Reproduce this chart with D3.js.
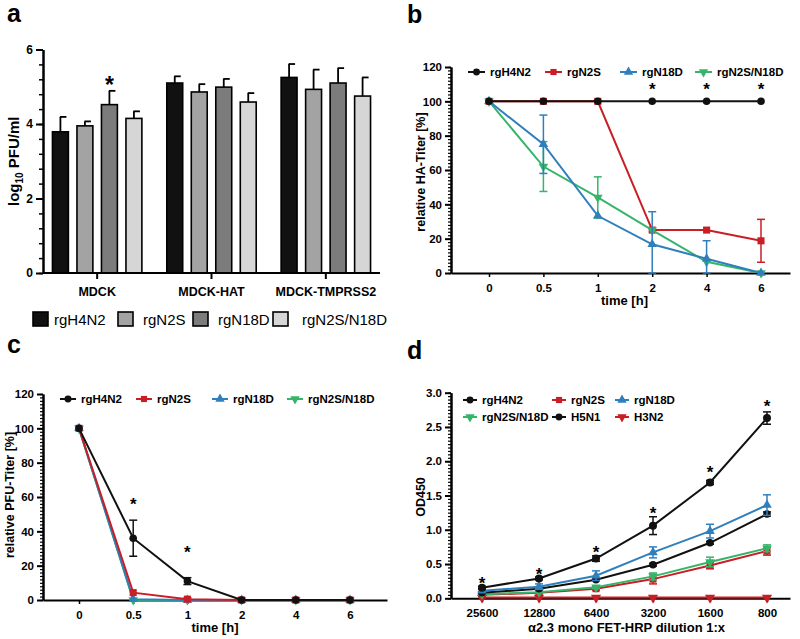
<!DOCTYPE html>
<html><head><meta charset="utf-8">
<script src="https://cdn.jsdelivr.net/npm/d3@7"></script>
<style>
body{margin:0;background:#fff}
svg{display:block}
text{font-family:"Liberation Sans",Arial,Helvetica,sans-serif}
</style>
</head><body>
<svg id="fig" width="800" height="639"></svg>
<script>
// ---------------- DATA ----------------
// Panel a
const cellLines = ["MDCK", "MDCK-HAT", "MDCK-TMPRSS2"];
const barSeries = ["rgH4N2", "rgN2S", "rgN18D", "rgN2S/N18D"];
const barH4N2 = [3.79, 5.10, 5.25];
const barN2S = [3.95, 4.86, 4.93];
const barN18D = [4.52, 4.99, 5.10];
const barN2SN18D = [4.15, 4.59, 4.75];
const barErrH4N2 = [0.40, 0.18, 0.36];
const barErrN2S = [0.12, 0.21, 0.53];
const barErrN18D = [0.37, 0.22, 0.40];
const barErrN2SN18D = [0.19, 0.24, 0.50];
const aYTicks = [0, 2, 4, 6];
const aStar = {cell: "MDCK", series: "rgN18D", value: 5.17};

// Panel b  (relative HA titer)
const timeLabels = ["0", "0.5", "1", "2", "4", "6"];
const bH4N2 = [100, 100, 100, 100, 100, 100];
const bN2S = [100, 100, 100, 25, 25, 18.75];
const bN18D = [100, 75, 33.3, 16.7, 8.3, 0];
const bN2SN18D = [100, 62, 44, 25, 6.5, 0];
const bErrH4N2 = [0, 0, 0, 0, 0, 0];
const bErrN2S = [0, 0, 0, 0, 0, 12.5];
const bErrN18D = [0, 17, 0, 19, 10.5, 0];
const bErrN2SN18D = [0, 14.5, 12, 0, 0, 0];
const bStarIdx = [3, 4, 5];
const bStarVal = [109, 109, 109];

// Panel c  (relative PFU titer)
const cH4N2 = [100, 36, 11, 0, 0, 0];
const cN2S = [100, 4.3, 0.5, 0, 0, 0];
const cN18D = [100, 0.4, 0, 0, 0, 0];
const cN2SN18D = [100, 0, 0, 0, 0, 0];
const cErrH4N2 = [0, 10.5, 2, 0, 0, 0];
const cStarIdx = [1, 2];
const cStarVal = [58, 30];
const pctTicks = [0, 20, 40, 60, 80, 100, 120];

// Panel d  (OD450 vs dilution)
const dilutionLabels = ["25600", "12800", "6400", "3200", "1600", "800"];
const dH4N2 = [0.155, 0.29, 0.58, 1.06, 1.69, 2.63];
const dN2S = [0.05, 0.08, 0.14, 0.28, 0.48, 0.69];
const dN18D = [0.11, 0.17, 0.33, 0.67, 0.98, 1.36];
const dN2SN18D = [0.06, 0.09, 0.16, 0.32, 0.53, 0.73];
const dH5N1 = [0.08, 0.14, 0.27, 0.49, 0.81, 1.23];
const dH3N2 = [0.01, 0.01, 0.01, 0.01, 0.01, 0.01];
const dErrH4N2 = [0.02, 0.02, 0.04, 0.13, 0.03, 0.09];
const dErrN2S = [0.01, 0.01, 0.02, 0.07, 0.05, 0.06];
const dErrN18D = [0.02, 0.04, 0.07, 0.08, 0.10, 0.15];
const dErrN2SN18D = [0.01, 0.01, 0.02, 0.05, 0.07, 0.05];
const dErrH5N1 = [0.01, 0.01, 0.01, 0.02, 0.02, 0.03];
const dErrH3N2 = [0, 0, 0, 0, 0, 0];
const dStarVal = [0.27, 0.41, 0.72, 1.30, 1.89, 2.86];
const odTicks = [0, 0.5, 1.0, 1.5, 2.0, 2.5, 3.0];

// ---------------- STYLE ----------------
const FONT = '"Liberation Sans",Arial,Helvetica,sans-serif';
const RED = "#c81e25", BLUE = "#2f7fbd", GREEN = "#36b56a", BLACK = "#111";
const barColors = {"rgH4N2": "#111111", "rgN2S": "#a3a3a3", "rgN18D": "#7c7c7c", "rgN2S/N18D": "#d6d6d6"};

const svg = d3.select("#fig");

function styleAxis(sel, domW, tickW, fs) {
  sel.select(".domain").attr("stroke", "#000").attr("stroke-width", domW);
  sel.selectAll(".tick line").attr("stroke", "#000").attr("stroke-width", tickW);
  sel.selectAll(".tick text").attr("fill", "#000").attr("font-weight", "bold")
    .attr("font-size", fs).attr("font-family", FONT);
}

function panelLabel(txt, x, y) {
  svg.append("text").attr("x", x).attr("y", y).text(txt)
    .attr("font-size", 25).attr("font-weight", "bold").attr("fill", "#000");
}

// ---------------- PANEL A ----------------
(function () {
  const L = 43, R = 380, B = 273, T = 49.5;
  const y = d3.scaleLinear().domain([0, 6]).range([B, T]);
  const x = d3.scaleBand().domain(cellLines).range([40, 383]);
  const xs = d3.scaleBand().domain(barSeries).range([-49, 49]).paddingInner(0.35).paddingOuter(0.175);
  const means = {"rgH4N2": barH4N2, "rgN2S": barN2S, "rgN18D": barN18D, "rgN2S/N18D": barN2SN18D};
  const errs = {"rgH4N2": barErrH4N2, "rgN2S": barErrN2S, "rgN18D": barErrN18D, "rgN2S/N18D": barErrN2SN18D};
  const g = svg.append("g");

  const rows = [];
  barSeries.forEach(s => cellLines.forEach((c, i) => rows.push({s, c, v: means[s][i], e: errs[s][i]})));

  // error bars (upward)
  const eb = g.append("g");
  rows.forEach(d => {
    const cx = x(d.c) + x.bandwidth() / 2 + xs(d.s) + xs.bandwidth() / 2;
    eb.append("line").attr("x1", cx).attr("x2", cx).attr("y1", y(d.v)).attr("y2", y(d.v + d.e))
      .attr("stroke", "#000").attr("stroke-width", 1.8);
    eb.append("line").attr("x1", cx - 0.5).attr("x2", cx + 6).attr("y1", y(d.v + d.e)).attr("y2", y(d.v + d.e))
      .attr("stroke", "#000").attr("stroke-width", 1.8);
  });
  g.append("g").selectAll("rect").data(rows).join("rect")
    .attr("x", d => x(d.c) + x.bandwidth() / 2 + xs(d.s))
    .attr("width", xs.bandwidth())
    .attr("y", d => y(d.v))
    .attr("height", d => y(0) - y(d.v))
    .attr("fill", d => barColors[d.s])
    .attr("stroke", "#000").attr("stroke-width", 1.6);

  // axes
  const ya = g.append("g").attr("transform", `translate(${L},0)`)
    .call(d3.axisLeft(y).tickValues(aYTicks).tickFormat(d3.format("d")).tickSize(7).tickSizeOuter(0).tickPadding(3));
  styleAxis(ya, 2, 2, 12);
  const ym = g.append("g").attr("transform", `translate(${L},0)`)
    .call(d3.axisLeft(y).tickValues(d3.range(0, 6.01, 0.4)).tickFormat("").tickSize(4).tickSizeOuter(0));
  styleAxis(ym, 2, 1.5, 12);
  const xa = g.append("g").attr("transform", `translate(0,${B})`)
    .call(d3.axisBottom(x).tickSize(6).tickSizeOuter(0).tickPadding(8));
  xa.select(".domain").remove();
  styleAxis(xa, 2, 2, 12.5);
  g.append("line").attr("x1", L).attr("x2", R).attr("y1", B).attr("y2", B).attr("stroke", "#000").attr("stroke-width", 2);

  // asterisk
  const sx = x(aStar.cell) + x.bandwidth() / 2 + xs(aStar.series) + xs.bandwidth() / 2;
  g.append("text").attr("x", sx).attr("y", y(aStar.value) + 13).attr("text-anchor", "middle")
    .attr("font-size", 23).attr("font-weight", "bold").text("*");

  // y label
  const yl = g.append("text").attr("transform", `translate(19,${(B + T) / 2}) rotate(-90)`)
    .attr("text-anchor", "middle").attr("font-size", 15).attr("font-weight", "bold");
  yl.append("tspan").text("log");
  yl.append("tspan").text("10").attr("font-size", 10).attr("dy", 4);
  yl.append("tspan").text(" PFU/ml").attr("dy", -4);

  // legend
  const lx = [33, 118, 193, 273];
  const tx = [54, 143, 218, 302];
  barSeries.forEach((s, i) => {
    g.append("rect").attr("x", lx[i]).attr("y", 312).attr("width", 15).attr("height", 14)
      .attr("fill", barColors[s]).attr("stroke", "#000").attr("stroke-width", 1.6);
    g.append("text").attr("x", tx[i]).attr("y", 325).attr("font-size", 15).text(s);
  });
})();

// ---------------- LINE PANEL HELPER ----------------
function symbolPath(shape, size) {
  if (shape === "tdown") return d3.symbol().type(d3.symbolTriangle).size(size)();
  const t = {circle: d3.symbolCircle, square: d3.symbolSquare, tri: d3.symbolTriangle}[shape];
  return d3.symbol().type(t).size(size)();
}
function drawMarker(g, shape, cx, cy, color, size) {
  g.append("path").attr("d", symbolPath(shape, size))
    .attr("transform", `translate(${cx},${cy})` + (shape === "tdown" ? " rotate(180)" : ""))
    .attr("fill", color);
}

function linePanel(o) {
  const g = svg.append("g");
  const n = o.labels.length;
  const xi = d3.scaleLinear().domain([0, n - 1]).range([o.x0, o.xN]);
  const x = d3.scaleLinear().domain([xi.invert(o.axL), xi.invert(o.axR)]).range([o.axL, o.axR]);
  const y = d3.scaleLinear().domain([0, o.ymax]).range([o.yb, o.yt]);

  // axes
  const xa = g.append("g").attr("transform", `translate(0,${o.yb})`)
    .call(d3.axisBottom(x).tickValues(d3.range(n)).tickFormat(i => o.labels[i]).tickSize(4).tickSizeOuter(0).tickPadding(7));
  styleAxis(xa, 2, 1.5, 11.5);
  const ym = g.append("g").attr("transform", `translate(${o.axL},0)`)
    .call(d3.axisLeft(y).tickValues(o.minors).tickFormat("").tickSize(3).tickSizeOuter(0));
  styleAxis(ym, 2, 1.2, 11.5);
  const ya = g.append("g").attr("transform", `translate(${o.axL},0)`)
    .call(d3.axisLeft(y).tickValues(o.majors).tickFormat(o.fmt).tickSize(6).tickSizeOuter(0).tickPadding(3));
  styleAxis(ya, 2, 2, 11.5);

  // series
  o.series.forEach(s => {
    const line = d3.line().x((d, i) => x(i)).y(d => y(d));
    g.append("path").datum(s.values).attr("d", line).attr("fill", "none")
      .attr("stroke", s.color).attr("stroke-width", 2);
    s.values.forEach((v, i) => {
      const e = s.errs ? s.errs[i] : 0;
      if (e > 0) {
        const cx = x(i);
        g.append("line").attr("x1", cx).attr("x2", cx).attr("y1", y(Math.max(0, v - e))).attr("y2", y(v + e))
          .attr("stroke", s.color).attr("stroke-width", 1.5);
        [v + e, Math.max(0, v - e)].forEach(w => {
          g.append("line").attr("x1", cx - 4).attr("x2", cx + 4).attr("y1", y(w)).attr("y2", y(w))
            .attr("stroke", s.color).attr("stroke-width", 1.5);
        });
      }
      drawMarker(g, s.shape, x(i), y(v), s.color, s.size || 45);
    });
  });

  // asterisks
  o.starIdx.forEach((idx, k) => {
    g.append("text").attr("x", x(idx)).attr("y", y(o.starVal[k]) + 9.5).attr("text-anchor", "middle")
      .attr("font-size", 17).attr("font-weight", "bold").text("*");
  });

  // legend
  o.legend.forEach(l => {
    const s = o.series.find(q => q.name === l.name);
    g.append("line").attr("x1", l.x).attr("x2", l.x + l.len).attr("y1", l.y).attr("y2", l.y)
      .attr("stroke", s.color).attr("stroke-width", 2);
    drawMarker(g, s.shape, l.x + l.len / 2, l.y, s.color, 38);
    g.append("text").attr("x", l.x + l.len + 5).attr("y", l.y + 4).attr("font-size", 11.5)
      .attr("font-weight", "bold").text(l.name);
  });

  // titles
  g.append("text").attr("x", (o.axL + o.axR) / 2 + (o.xtOff || 0)).attr("y", o.xtY).attr("text-anchor", "middle")
    .attr("font-size", 13).attr("font-weight", "bold").text(o.xTitle);
  g.append("text").attr("transform", `translate(${o.ytX},${o.ytY}) rotate(-90)`).attr("text-anchor", "middle")
    .attr("font-size", 12.5).attr("font-weight", "bold").text(o.yTitle);
}

// ---------------- PANEL B ----------------
linePanel({
  labels: timeLabels, x0: 489, xN: 761, axL: 451, axR: 790, yb: 273, yt: 67, ymax: 120,
  majors: pctTicks, minors: d3.range(0, 120.1, 2), fmt: d3.format("d"),
  series: [
    {name: "rgN2S", values: bN2S, errs: bErrN2S, color: RED, shape: "square", size: 50},
    {name: "rgN2S/N18D", values: bN2SN18D, errs: bErrN2SN18D, color: GREEN, shape: "tdown", size: 40},
    {name: "rgN18D", values: bN18D, errs: bErrN18D, color: BLUE, shape: "tri", size: 40},
    {name: "rgH4N2", values: bH4N2, errs: bErrH4N2, color: BLACK, shape: "circle", size: 45}
  ],
  starIdx: bStarIdx, starVal: bStarVal,
  legend: [
    {name: "rgH4N2", x: 468, y: 72, len: 17},
    {name: "rgN2S", x: 545, y: 72, len: 17},
    {name: "rgN18D", x: 620, y: 72, len: 17},
    {name: "rgN2S/N18D", x: 695, y: 72, len: 17}
  ],
  xTitle: "time [h]", xtY: 305, xtOff: 4, yTitle: "relative HA-Titer [%]", ytX: 425, ytY: 172
});

// ---------------- PANEL C ----------------
linePanel({
  labels: timeLabels, x0: 79, xN: 350, axL: 43, axR: 387, yb: 600, yt: 394, ymax: 120,
  majors: pctTicks, minors: d3.range(0, 120.1, 2), fmt: d3.format("d"),
  series: [
    {name: "rgN2S/N18D", values: cN2SN18D, errs: null, color: GREEN, shape: "tdown", size: 40},
    {name: "rgN18D", values: cN18D, errs: null, color: BLUE, shape: "tri", size: 40},
    {name: "rgN2S", values: cN2S, errs: null, color: RED, shape: "square", size: 50},
    {name: "rgH4N2", values: cH4N2, errs: cErrH4N2, color: BLACK, shape: "circle", size: 45}
  ],
  starIdx: cStarIdx, starVal: cStarVal,
  legend: [
    {name: "rgH4N2", x: 60, y: 399, len: 16},
    {name: "rgN2S", x: 136, y: 399, len: 16},
    {name: "rgN18D", x: 212, y: 399, len: 16},
    {name: "rgN2S/N18D", x: 287, y: 399, len: 16}
  ],
  xTitle: "time [h]", xtY: 632, xtOff: 0, yTitle: "relative PFU-Titer [%]", ytX: 14, ytY: 495
});

// ---------------- PANEL D ----------------
linePanel({
  labels: dilutionLabels, x0: 482, xN: 767, axL: 451, axR: 790, yb: 598.3, yt: 392.7, ymax: 3.0,
  majors: odTicks, minors: d3.range(0, 3.001, 0.05), fmt: d3.format(".1f"),
  series: [
    {name: "H3N2", values: dH3N2, errs: dErrH3N2, color: RED, shape: "tdown", size: 45},
    {name: "rgN2S", values: dN2S, errs: dErrN2S, color: RED, shape: "square", size: 50},
    {name: "rgN2S/N18D", values: dN2SN18D, errs: dErrN2SN18D, color: GREEN, shape: "tdown", size: 40},
    {name: "H5N1", values: dH5N1, errs: dErrH5N1, color: BLACK, shape: "circle", size: 45},
    {name: "rgN18D", values: dN18D, errs: dErrN18D, color: BLUE, shape: "tri", size: 40},
    {name: "rgH4N2", values: dH4N2, errs: dErrH4N2, color: BLACK, shape: "circle", size: 50}
  ],
  starIdx: d3.range(6), starVal: dStarVal,
  legend: [
    {name: "rgH4N2", x: 463, y: 400, len: 14},
    {name: "rgN2S", x: 552, y: 400, len: 14},
    {name: "rgN18D", x: 615, y: 400, len: 14},
    {name: "rgN2S/N18D", x: 463, y: 417, len: 14},
    {name: "H5N1", x: 552, y: 417, len: 14},
    {name: "H3N2", x: 615, y: 417, len: 14}
  ],
  xTitle: "α2.3 mono FET-HRP dilution 1:x", xtY: 632, xtOff: 6, yTitle: "OD450", ytX: 425, ytY: 497
});

// panel letters
panelLabel("a", 7, 22);
panelLabel("b", 407, 23);
panelLabel("c", 7, 353);
panelLabel("d", 407, 359);
</script>
</body></html>
